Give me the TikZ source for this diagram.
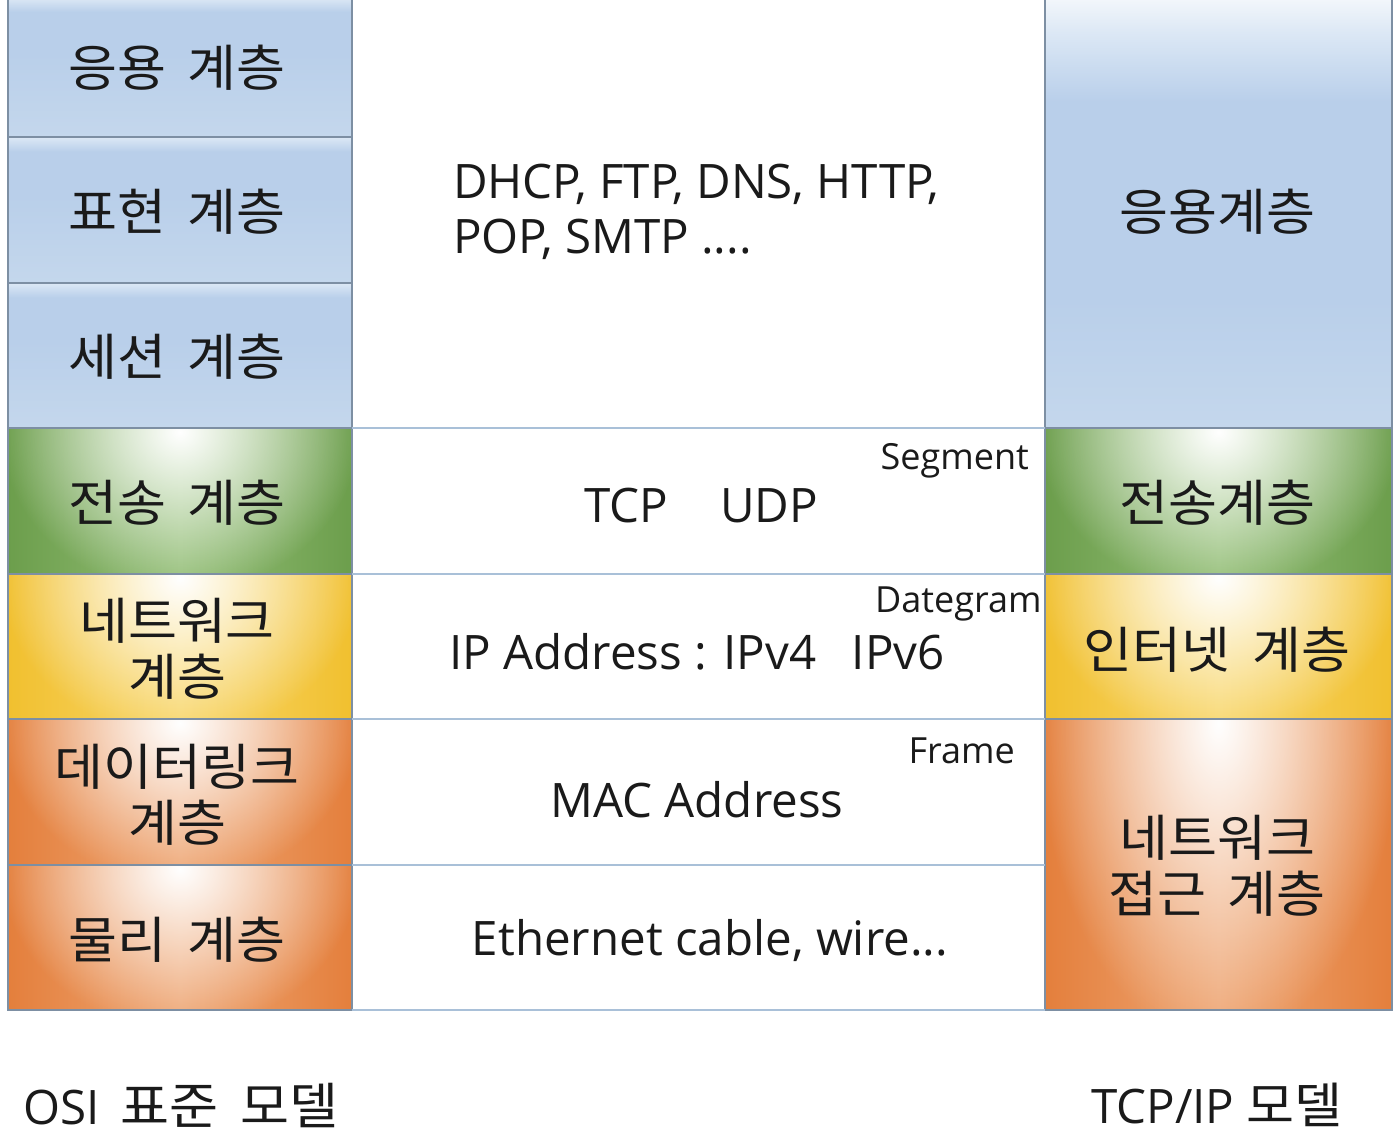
\documentclass[tikz,border=0pt]{standalone}
\usepackage{fontspec}
\setmainfont{Open Sans}
\newfontfamily\kr[FakeStretch=1.065, WordSpace={1.8}]{Noto Sans CJK KR}
\usetikzlibrary{fadings}
\definecolor{bluecell}{HTML}{B9CFEA}
\definecolor{bluebot}{HTML}{C4D7EC}
\definecolor{bluetop}{HTML}{DCE8F5}
\definecolor{bluewhite}{HTML}{F3F7FB}
\definecolor{grnE}{HTML}{6C9E4C}
\definecolor{grnM}{HTML}{93BE76}
\definecolor{ylwE}{HTML}{F1C02F}
\definecolor{ylwM}{HTML}{F8D66A}
\definecolor{orgE}{HTML}{E47F3C}
\definecolor{orgM}{HTML}{EEA674}
\definecolor{cellline}{HTML}{7D8FA3}
\definecolor{gridline}{HTML}{A9C0D8}
\definecolor{txt}{HTML}{1A1A1A}
\pgfdeclareverticalshading{leftblue}{100bp}{color(0bp)=(bluebot); color(25bp)=(bluebot); color(55bp)=(bluecell); color(70bp)=(bluecell); color(75bp)=(bluetop); color(100bp)=(bluetop)}
\pgfdeclareverticalshading{rightblue}{100bp}{color(0bp)=(bluebot); color(25bp)=(bluebot); color(40bp)=(bluecell); color(63bp)=(bluecell); color(71bp)=(bluetop); color(75bp)=(bluewhite); color(100bp)=(bluewhite)}
\tikzfading[name=glowfade, inner color=transparent!0, outer color=transparent!100]
\newcommand{\glowcell}[6]{%
  \shade[left color=#5, right color=#5, middle color=#6] (#1,#2) rectangle (#3,#4);
  \begin{scope}
    \clip (#1,#2) rectangle (#3,#4);
    \fill[white, path fading=glowfade] ({(#1+#3)/2},{#2+4}) ellipse [x radius={0.52*(#3-#1)*1pt}, y radius={1.1*(#4-#2)*1pt}];
  \end{scope}
  \draw[cellline, line width=1.6pt] (#1,#2) rectangle (#3,#4);
}
\newcommand{\bluecellbox}[5]{%
  \shade[shading=#5] (#1,#2) rectangle (#3,#4);
  \draw[cellline, line width=1.6pt] (#1,#2) rectangle (#3,#4);
}
\begin{document}
\begin{tikzpicture}[x=1pt, y=-1pt,
  kl/.style={font=\kr\fontsize{50}{56}\selectfont, align=center, inner sep=0pt, text=txt},
  ll/.style={font=\fontsize{47.5}{55}\selectfont, align=left, inner sep=0pt, text=txt},
  sl/.style={font=\fontsize{36}{40}\selectfont, inner sep=0pt, text=txt},
  grid/.style={gridline, line width=1.6pt}]
\useasboundingbox (0,0) rectangle (1396,1142);
\fill[white] (0,0) rectangle (1396,1142);

% left column (OSI)
\bluecellbox{8}{-2}{352}{137}{leftblue}
\bluecellbox{8}{137}{352}{283}{leftblue}
\bluecellbox{8}{283}{352}{428}{leftblue}
\glowcell{8}{428}{352}{574}{grnE}{grnM}
\glowcell{8}{574}{352}{719}{ylwE}{ylwM}
\glowcell{8}{719}{352}{865}{orgE}{orgM}
\glowcell{8}{865}{352}{1010}{orgE}{orgM}

% right column (TCP/IP)
\bluecellbox{1045}{-2}{1392}{428}{rightblue}
\glowcell{1045}{428}{1392}{574}{grnE}{grnM}
\glowcell{1045}{574}{1392}{719}{ylwE}{ylwM}
\glowcell{1045}{719}{1392}{1010}{orgE}{orgM}

% middle grid lines
\draw[grid] (352,428) -- (1045,428);
\draw[grid] (352,574) -- (1045,574);
\draw[grid] (352,719) -- (1045,719);
\draw[grid] (352,865) -- (1045,865);
\draw[grid] (352,1010) -- (1045,1010);

% left labels
\node[kl] (l7) at (177,68) {응용 계층};
\node[kl] (l6) at (177,212) {표현 계층};
\node[kl] (l5) at (177,357) {세션 계층};
\node[kl] (l4) at (177,503) {전송 계층};
\node[kl] (l3) at (177,649) {네트워크\\계층};
\node[kl] (l2) at (177,795) {데이터링크\\계층};
\node[kl] (l1) at (177,940) {물리 계층};

% right labels
\node[kl] (r4) at (1217,212) {응용계층};
\node[kl] (r3) at (1217,503) {전송계층};
\node[kl] (r2) at (1217,650) {인터넷 계층};
\node[kl] (r1) at (1217,866) {네트워크\\접근 계층};

% middle texts
\node[ll, anchor=west] (app) at (453,212) {DHCP, FTP, DNS, HTTP,\\POP, SMTP ....};
\node[ll] (tcp) at (701,506) {TCP\hspace{1.1em}UDP};
\node[ll] (ip) at (697,652) {IP Address : IPv4\hspace{0.75em}IPv6};
\node[ll] (mac) at (697,800) {MAC Address};
\node[ll] (eth) at (710,941) {Ethernet cable, wire...};

\node[sl, anchor=east] (seg) at (1029,461) {Segment};
\node[sl, anchor=west] (dgm) at (875,604) {Dategram};
\node[sl, anchor=east] (frm) at (1015,751) {Frame};

% bottom captions
\node[ll, anchor=west] (osi) at (23,1105) {OSI\hspace{0.45em}{\kr\fontsize{50}{56}\selectfont 표준 모델}};
\node[ll] (tcpip) at (1217,1105) {TCP/IP {\kr\fontsize{49}{56}\selectfont 모델}};
\end{tikzpicture}
\end{document}
